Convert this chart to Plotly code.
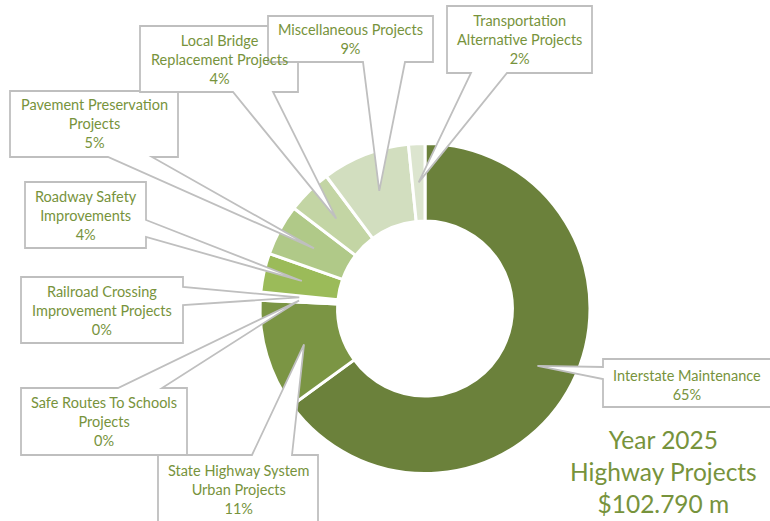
import plotly.graph_objects as go
import math

W, H = 770, 521

# ---- data ----
categories = [
    "Interstate Maintenance",
    "State Highway System Urban Projects",
    "Safe Routes To Schools Projects",
    "Railroad Crossing Improvement Projects",
    "Roadway Safety Improvements",
    "Pavement Preservation Projects",
    "Local Bridge Replacement Projects",
    "Miscellaneous Projects",
    "Transportation Alternative Projects",
]
shares = [65.0, 10.8, 0.4, 0.4, 3.8, 5.0, 4.4, 8.6, 1.6]
label_wraps = [
    ["Interstate Maintenance"],
    ["State Highway System", "Urban Projects"],
    ["Safe Routes To Schools", "Projects"],
    ["Railroad Crossing", "Improvement Projects"],
    ["Roadway Safety", "Improvements"],
    ["Pavement Preservation", "Projects"],
    ["Local Bridge", "Replacement Projects"],
    ["Miscellaneous Projects"],
    ["Transportation", "Alternative Projects"],
]
colors = ["#6B813B", "#7B9544", "#FFFFFF", "#FFFFFF", "#9BBB59",
          "#B0C988", "#C3D5A4", "#D2DEBF", "#DCE5CF"]
year = 2025
total_m = "102.790"

# ---- layout constants ----
CX, CY, R = 425, 308.5, 165
HOLE = 0.53
TEXT_COLOR = "#77933C"
LINE_COLOR = "#BFBFBF"
FONT = "Lato"

# callout boxes in px: x0, y0, x1, y1, side of the pointer, base start, base end
boxes = [
    (603, 359, 772, 407, "left", 367, 379),
    (158, 455, 318, 530, "top", 252, 292),
    (21, 388, 187, 455, "top", 118, 162),
    (21, 277, 183, 343, "right", 287, 305),
    (25, 182, 146, 248, "right", 220, 237),
    (10, 91, 178, 157, "bottom", 108, 152),
    (140, 26, 298, 92, "bottom", 233, 273),
    (268, 16, 433, 62, "bottom", 363, 405),
    (447, 6, 592, 73, "bottom", 471, 507),
]
text_centers_y = [385, 489, None, None, None, None, None, None, None]


def px(x, y):
    return x / W, 1 - y / H


fig = go.Figure(go.Pie(
    labels=categories, values=shares, sort=False, direction="clockwise",
    rotation=0, hole=HOLE, textinfo="none", showlegend=False,
    marker=dict(colors=colors, line=dict(color="white", width=3)),
    domain=dict(x=[(CX - R) / W, (CX + R) / W],
                y=[(H - CY - R) / H, (H - CY + R) / H]),
))

total = sum(shares)
rmid = R * (1 + HOLE) / 2
cum = 0.0
shapes, annotations = [], []
for i, v in enumerate(shares):
    th = 2 * math.pi * (cum + v / 2) / total
    cum += v
    tx, ty = CX + rmid * math.sin(th), CY - rmid * math.cos(th)
    x0, y0, x1, y1, side, b0, b1 = boxes[i]
    if side == "top":
        pts = [(x0, y0), (b0, y0), (tx, ty), (b1, y0), (x1, y0), (x1, y1), (x0, y1)]
    elif side == "right":
        pts = [(x0, y0), (x1, y0), (x1, b0), (tx, ty), (x1, b1), (x1, y1), (x0, y1)]
    elif side == "bottom":
        pts = [(x0, y0), (x1, y0), (x1, y1), (b1, y1), (tx, ty), (b0, y1), (x0, y1)]
    else:
        pts = [(x0, y0), (x1, y0), (x1, y1), (x0, y1), (x0, b1), (tx, ty), (x0, b0)]
    p = [px(a, b) for a, b in pts]
    path = "M " + " L ".join(f"{a:.5f},{b:.5f}" for a, b in p) + " Z"
    shapes.append(dict(type="path", path=path, xref="paper", yref="paper",
                       fillcolor="white", line=dict(color=LINE_COLOR, width=1.8)))
    pct = round(v / total * 100)
    txt = "<br>".join(label_wraps[i] + [f"{pct}%"])
    cy_t = text_centers_y[i] if text_centers_y[i] is not None else (y0 + y1) / 2
    cx_t = (x0 + min(x1, W)) / 2
    ax, ay = px(cx_t, cy_t)
    annotations.append(dict(x=ax, y=ay, xref="paper", yref="paper", text=txt,
                            showarrow=False, xanchor="center", yanchor="middle",
                            align="center",
                            font=dict(family=FONT, size=14.5, color=TEXT_COLOR)))

tx, ty = px(663, 471)
annotations.append(dict(x=tx, y=ty, xref="paper", yref="paper",
                        text=f"Year {year}<br>Highway Projects<br>${total_m} m",
                        showarrow=False, xanchor="center", yanchor="middle",
                        align="center",
                        font=dict(family=FONT, size=24.5, color=TEXT_COLOR)))

fig.update_layout(width=W, height=H, margin=dict(l=0, r=0, t=0, b=0),
                  paper_bgcolor="white", plot_bgcolor="white",
                  shapes=shapes, annotations=annotations)

fig.write_html("out.html", config={"displayModeBar": False},
               post_script="document.body.style.margin='0';")
